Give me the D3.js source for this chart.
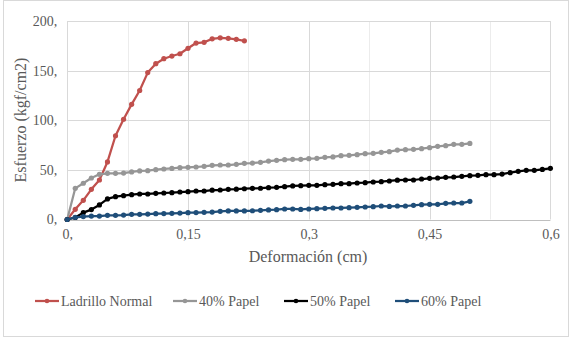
<!DOCTYPE html>
<html><head><meta charset="utf-8">
<script src="https://cdn.jsdelivr.net/npm/d3@7"></script>
</head><body style="margin:0;background:#fff">
<svg id="c" width="576" height="341" style="display:block"></svg>
<script>
const xTicks = [0, 0.15, 0.3, 0.45, 0.6];
const xTickLabels = ["0,", "0,15", "0,3", "0,45", "0,6"];
const yTicks = [0, 50, 100, 150, 200];
const yTickLabels = ["0,", "50,", "100,", "150,", "200,"];
const seriesNames = ["Ladrillo Normal", "40% Papel", "50% Papel", "60% Papel"];
const seriesColors = ["#c0504d", "#969696", "#000000", "#1f4e79"];
const step = 0.01;
const ladrillo = [0,10.3,19.3,30.4,39.8,58,84.4,101,116,130,148,157,162,164.7,167,172.5,177.8,178.5,182,183,182.5,181.5,180];
const papel40 = [0,31.4,36.5,41.8,45.5,46.5,46.5,46.8,47.9,48.9,49.2,50.2,50.9,51.5,52.2,52.6,52.9,53.6,54.6,54.9,54.9,55.6,56.6,56.9,57.6,58.9,59.6,60.3,60.6,60.6,61.3,61.6,62.6,63.0,64.3,64.7,65.3,66.3,66.7,67.7,68.3,69.9,70.4,70.7,71.4,72.4,73.7,74.4,75.7,75.7,76.7];
const papel50 = [0,2,6.9,10,14.7,20.7,23.0,24.0,25.0,25.7,25.7,26.4,26.7,27.0,27.7,28.0,28.7,28.7,29.5,29.7,30.4,30.6,31.0,31.4,31.5,32.1,32.4,33.1,33.8,34.1,34.4,34.4,35.1,35.4,36.1,36.1,36.8,37.1,37.8,38.1,38.8,39.6,39.8,39.8,40.8,41.5,41.8,42.5,42.8,43.5,44.2,44.5,45.2,45.2,45.8,47.2,48.5,49.5,49.5,50.5,51.6];
const papel60 = [0,2.2,2.9,3.5,3.5,4.2,4.2,4.5,5.2,5.2,5.5,5.9,6.0,6.2,6.5,6.9,7.0,7.2,7.5,8.2,8.6,8.6,8.6,8.8,9.2,9.6,9.9,10.6,10.6,10.2,10.6,10.9,11.3,11.6,11.6,11.9,12.3,12.6,12.9,13.6,13.2,13.6,13.6,14.3,14.9,15.3,15.3,16.3,16.6,16.6,18.3];
const allSeries = [ladrillo, papel40, papel50, papel60];

const FONT = "'Liberation Serif'";
const svg = d3.select("#c");
const L = 67.2, R = 550.4, T = 21, B = 219.5;
const x = d3.scaleLinear().domain([0, 0.6]).range([L, R]);
const y = d3.scaleLinear().domain([0, 200]).range([B, T]);

svg.append("rect").attr("x",3.5).attr("y",0.5).attr("width",565).attr("height",336)
  .attr("fill","#fff").attr("stroke","#d9d9d9");

// vertical gridlines (major every 0.15, minor every 0.075)
const minor = d3.range(0, 9).map(i => i * 0.075);
svg.append("g").selectAll("line").data(minor).join("line")
  .attr("x1", d => Math.round(x(d)) + 0.5).attr("x2", d => Math.round(x(d)) + 0.5)
  .attr("y1", T).attr("y2", B)
  .attr("stroke", (d, i) => i % 2 ? "#ececec" : "#d9d9d9").attr("stroke-width", 1);
// horizontal gridlines
svg.append("g").selectAll("line").data(yTicks).join("line")
  .attr("x1", L).attr("x2", R)
  .attr("y1", d => Math.round(y(d)) + 0.5).attr("y2", d => Math.round(y(d)) + 0.5)
  .attr("stroke", d => d === 0 ? "#bfbfbf" : "#d9d9d9");

// axes
const yAxis = d3.axisLeft(y).tickValues(yTicks).tickFormat((d, i) => yTickLabels[i]).tickSize(0).tickPadding(10);
const gy = svg.append("g").attr("transform", `translate(${L},0)`).call(yAxis);
gy.select(".domain").remove();
gy.selectAll("text").attr("fill", "#595959").style("font-family", FONT).style("font-size", "14px");

const xAxis = d3.axisBottom(x).tickValues(xTicks).tickFormat((d, i) => xTickLabels[i]).tickSize(0).tickPadding(10);
const gx = svg.append("g").attr("transform", `translate(0,${B})`).call(xAxis);
gx.select(".domain").remove();
gx.selectAll("text").attr("fill", "#595959").style("font-family", FONT).style("font-size", "14px");

// titles
svg.append("text").attr("x", 308).attr("y", 262).attr("text-anchor", "middle").style("font-family", FONT)
  .attr("fill", "#595959").style("font-size", "16px").text("Deformación (cm)");
svg.append("text").attr("transform", "translate(26,120) rotate(-90)").attr("text-anchor", "middle").style("font-family", FONT)
  .attr("fill", "#595959").style("font-size", "16px").text("Esfuerzo (kgf/cm2)");

// series
const line = d3.line().x((d, i) => x(i * step)).y(d => y(d));
allSeries.forEach((s, k) => {
  const g = svg.append("g");
  g.append("path").datum(s).attr("d", line).attr("fill", "none")
    .attr("stroke", seriesColors[k]).attr("stroke-width", 2.25).attr("stroke-linejoin", "round");
  g.selectAll("circle").data(s).join("circle")
    .attr("cx", (d, i) => x(i * step)).attr("cy", d => y(d)).attr("r", 2.6)
    .attr("fill", seriesColors[k]);
});

// legend
const legX = [35, 173, 284, 395];
const legY = 301;
seriesNames.forEach((n, k) => {
  const g = svg.append("g").attr("transform", `translate(${legX[k]},${legY})`);
  g.append("line").attr("x1", 0).attr("x2", 24).attr("y1", 0).attr("y2", 0)
    .attr("stroke", seriesColors[k]).attr("stroke-width", 2.25);
  g.append("circle").attr("cx", 12).attr("cy", 0).attr("r", 2.3).attr("fill", seriesColors[k]);
  g.append("text").attr("x", 26).attr("y", 4.5).attr("fill", "#595959").style("font-family", FONT)
    .style("font-size", "14px").text(n);
});
</script></body></html>
